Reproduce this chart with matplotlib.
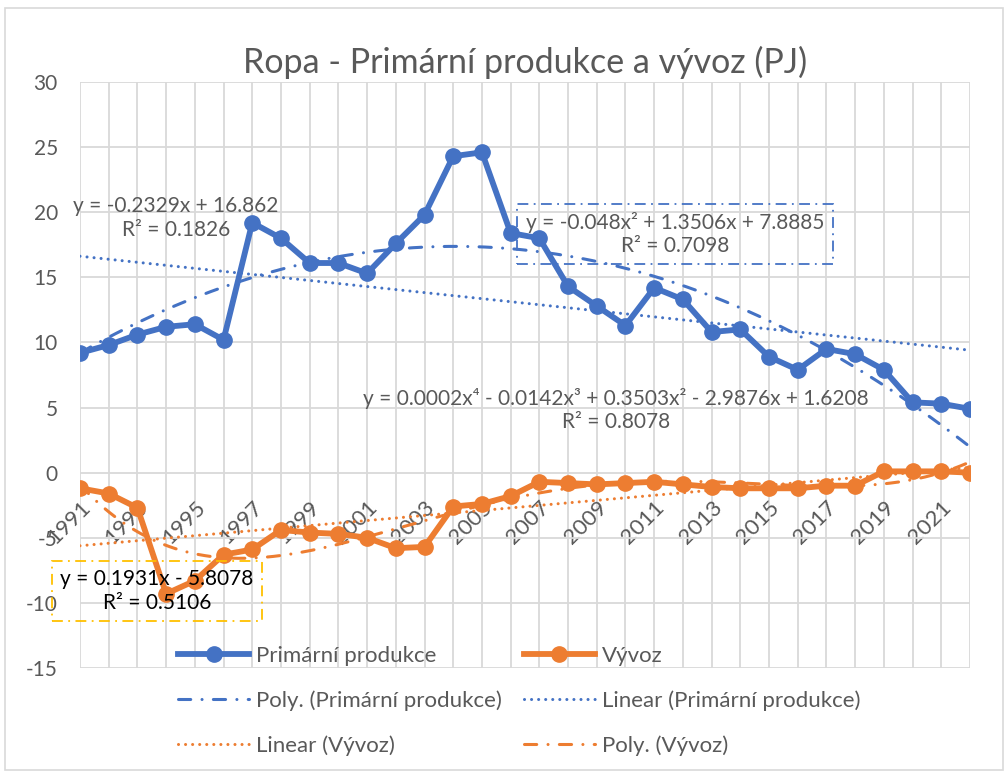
import numpy as np
import matplotlib
matplotlib.use('Agg')
import matplotlib.pyplot as plt
from matplotlib.lines import Line2D
from matplotlib.patches import Rectangle

plt.rcParams['font.family'] = ['Lato', 'DejaVu Sans']
plt.rcParams['axes.unicode_minus'] = False

# data (PJ)
years = list(range(1991, 2023))
primarni = [9.2, 9.8, 10.6, 11.2, 11.4, 10.2, 19.2, 18.0, 16.1, 16.1, 15.3, 17.6,
            19.8, 24.3, 24.6, 18.4, 18.0, 14.3, 12.8, 11.3, 14.2, 13.3, 10.8, 11.0,
            8.9, 7.9, 9.5, 9.1, 7.9, 5.4, 5.3, 4.9]
vyvoz = [-1.2, -1.6, -2.7, -9.3, -8.3, -6.3, -5.9, -4.4, -4.6, -4.7, -5.0, -5.8,
         -5.7, -2.6, -2.4, -1.8, -0.7, -0.8, -0.9, -0.8, -0.7, -0.9, -1.1, -1.2,
         -1.2, -1.2, -1.0, -1.0, 0.1, 0.1, 0.1, 0.0]
tick_labels = [str(y) if (y - 1991) % 2 == 0 else '' for y in years]
y_ticks = [-15, -10, -5, 0, 5, 10, 15, 20, 25, 30]

BLUE = '#4472C4'
ORANGE = '#ED7D31'
GRAY = '#595959'
GRID = '#D9D9D9'

W, H = 1007, 775
fig = plt.figure(figsize=(W / 100, H / 100), dpi=100)


def fx(px):
    return px / W


def fy(py):
    return 1 - py / H


fig.patches.append(Rectangle((fx(5), fy(770)), fx(998), fy(8) - fy(770), transform=fig.transFigure,
                             fill=False, ec=GRID, lw=1.2))

ax = fig.add_axes([fx(80), fy(668), fx(890), fy(82) - fy(668)])
for s in ax.spines.values():
    s.set_visible(False)
ax.spines['bottom'].set_position(('data', 0))

ax.set_xlim(years[0], years[-1])
ax.set_ylim(-15, 30)
ax.set_xticks(years)
ax.set_xticklabels(tick_labels, rotation=45, ha='right', va='top', rotation_mode='anchor')
ax.set_yticks(y_ticks)
ax.tick_params(length=0, labelsize=15, labelcolor=GRAY)
ax.tick_params(axis='y', pad=16)
ax.tick_params(axis='x', pad=18, labelsize=16)
ax.grid(True, color=GRID, lw=1.3)
ax.set_axisbelow(True)

# series
ax.plot(years, primarni, color=BLUE, lw=4.2, marker='o', ms=11, zorder=3)
ax.plot(years, vyvoz, color=ORANGE, lw=4.2, marker='o', ms=11, zorder=3)

# trendlines (Excel style, x = 1..n)
xi = np.arange(1, len(years) + 1)
xs = np.linspace(1, len(years), 300)
xs_year = xs + years[0] - 1
dashdot = (0, (4, 3.7, 0.01, 3.7))
dotted = (0, (0.01, 2.3))
tl = dict(lw=2.2, dash_capstyle='round', zorder=4)
ax.plot(xs_year, np.polyval(np.polyfit(xi, primarni, 2), xs), color=BLUE, ls=dashdot, **tl)
ax.plot(xs_year, np.polyval(np.polyfit(xi, primarni, 1), xs), color=BLUE, ls=dotted, **tl)
ax.plot(xs_year, np.polyval(np.polyfit(xi, vyvoz, 1), xs), color=ORANGE, ls=dotted, **tl)
ax.plot(xs_year, np.polyval(np.polyfit(xi, vyvoz, 4), xs), color=ORANGE, ls=dashdot, **tl)

# trendline labels
fig.text(fx(176), fy(218), 'y = -0.2329x + 16.862\nR² = 0.1826', ha='center', va='center',
         fontsize=15, color=GRAY, linespacing=1.2)
fig.text(fx(675), fy(234), 'y = -0.048x² + 1.3506x + 7.8885\nR² = 0.7098', ha='center', va='center',
         fontsize=15, color=GRAY, linespacing=1.2,
         bbox=dict(boxstyle='square,pad=0.4', fc='none', ec=BLUE, lw=1.3, ls=(0, (6, 3, 1, 3))))
fig.text(fx(616), fy(410), 'y = 0.0002x⁴ - 0.0142x³ + 0.3503x² - 2.9876x + 1.6208\nR² = 0.8078',
         ha='center', va='center', fontsize=15, color=GRAY, linespacing=1.2)
fig.text(fx(157), fy(591), 'y = 0.1931x - 5.8078\nR² = 0.5106', ha='center', va='center',
         fontsize=15, color='black', linespacing=1.2,
         bbox=dict(boxstyle='square,pad=0.38', fc='none', ec='#FFC000', lw=1.3, ls=(0, (6, 3, 1, 3))))

fig.text(fx(525), fy(62), 'Ropa - Primární produkce a vývoz (PJ)', ha='center', va='center',
         fontsize=24.5, color=GRAY)

# legend
handles = [
    Line2D([], [], color=BLUE, lw=4.2, marker='o', ms=11),
    Line2D([], [], color=BLUE, ls=dashdot, lw=2.2, dash_capstyle='round'),
    Line2D([], [], color=ORANGE, ls=dotted, lw=2.2, dash_capstyle='round'),
    Line2D([], [], color=ORANGE, lw=4.2, marker='o', ms=11),
    Line2D([], [], color=BLUE, ls=dotted, lw=2.2, dash_capstyle='round'),
    Line2D([], [], color=ORANGE, ls=dashdot, lw=2.2, dash_capstyle='round'),
]
labels = ['Primární produkce', 'Poly. (Primární produkce)', 'Linear (Vývoz)',
          'Vývoz', 'Linear (Primární produkce)', 'Poly. (Vývoz)']
leg = fig.legend(handles, labels, loc='upper left', bbox_to_anchor=(fx(178), fy(646)), ncol=2,
                 frameon=False, fontsize=16, handlelength=3.2, handletextpad=0.3,
                 columnspacing=1.0, labelspacing=1.1, borderpad=0, borderaxespad=0)
for t in leg.get_texts():
    t.set_color(GRAY)

fig.savefig('out.png', dpi=100)
